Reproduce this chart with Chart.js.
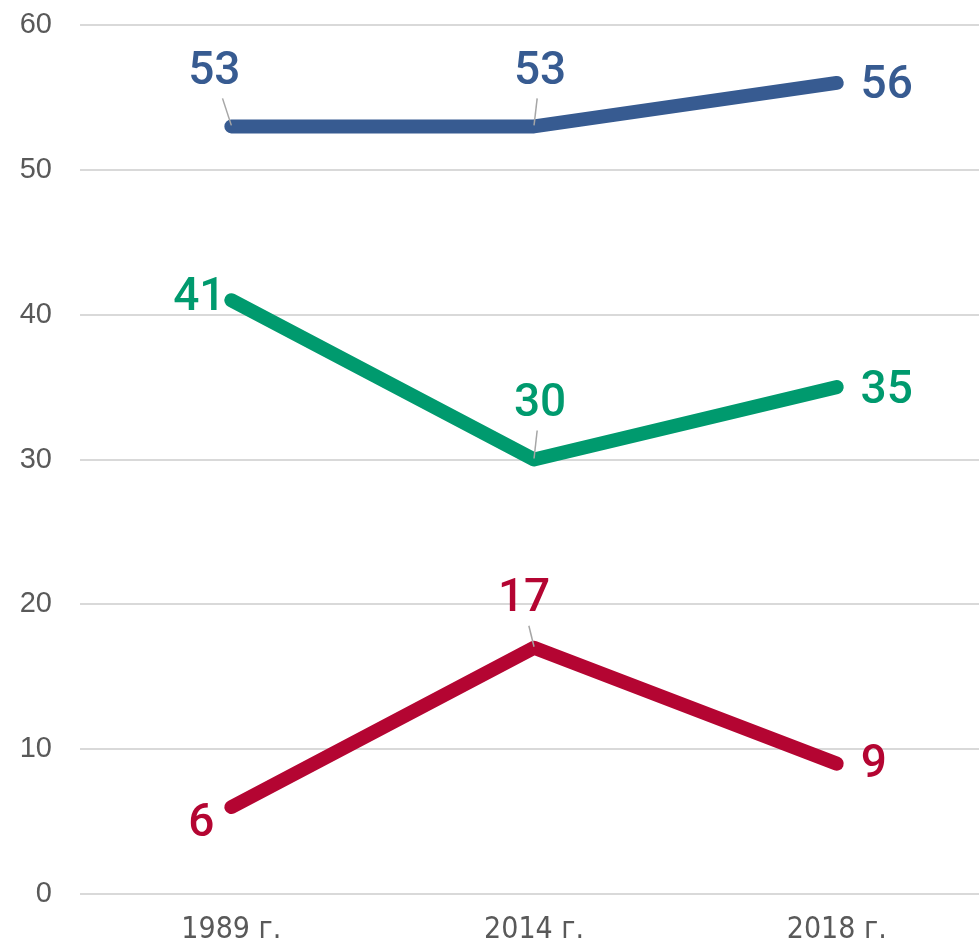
<!DOCTYPE html>
<html>
<head>
<meta charset="utf-8">
<script src="https://cdn.jsdelivr.net/npm/chart.js@4/dist/chart.umd.min.js"></script>
<style>
  html, body { margin: 0; padding: 0; background: #fff; }
  #wrap { width: 979px; height: 946px; }
</style>
</head>
<body>
<div id="wrap"><canvas id="chart" width="979" height="946"></canvas></div>
<script>
// data
var years = ["1989 г.", "2014 г.", "2018 г."];
var blueValues = [53, 53, 56];
var greenValues = [41, 30, 35];
var redValues = [6, 17, 9];
var yTicks = [0, 10, 20, 30, 40, 50, 60];

var BLUE = "#375B91";
var GREEN = "#009A6E";
var RED = "#B40532";

function toPoints(values) {
	return values.map(function(v, i) { return { x: i, y: v }; });
}

// label placement relative to point: dx, dy of text center, leader line or not
var labelPlacement = [
	[ { dx: -17, dy: -55, lead: true }, { dx: 6, dy: -55, lead: true }, { dx: 50, dy: 3, lead: false } ],
	[ { dx: -32, dy: -3, lead: false }, { dx: 6, dy: -56, lead: true }, { dx: 50, dy: 3, lead: false } ],
	[ { dx: -30, dy: 16, lead: false }, { dx: -10, dy: -49, lead: true }, { dx: 37, dy: 1, lead: false } ]
];

var dataLabelPlugin = {
	id: "dataLabels",
	afterDatasetsDraw: function(chart) {
		var ctx = chart.ctx;
		ctx.save();
		chart.data.datasets.forEach(function(ds, di) {
			var meta = chart.getDatasetMeta(di);
			meta.data.forEach(function(pt, i) {
				var p = labelPlacement[di][i];
				var tx = pt.x + p.dx, ty = pt.y + p.dy;
				if (p.lead) {
					ctx.strokeStyle = "#A6A6A6";
					ctx.lineWidth = 1.5;
					ctx.beginPath();
					ctx.moveTo(tx + (pt.x - tx) * 0.48, ty + 27);
					ctx.lineTo(pt.x, pt.y - 1);
					ctx.stroke();
				}
				ctx.fillStyle = ds.borderColor;
				ctx.font = "500 46px Roboto, 'Liberation Sans', sans-serif";
				ctx.textAlign = "center";
				ctx.textBaseline = "middle";
				ctx.fillText(String(ds.data[i].y), tx, ty + 1);
			});
		});
		ctx.restore();
	}
};

var chart = new Chart(document.getElementById("chart").getContext("2d"), {
	type: "line",
	data: {
		datasets: [
			{ data: toPoints(blueValues), borderColor: BLUE },
			{ data: toPoints(greenValues), borderColor: GREEN },
			{ data: toPoints(redValues), borderColor: RED }
		]
	},
	options: {
		responsive: false,
		animation: false,
		layout: { padding: { top: 25, right: 0, left: 0, bottom: 0 } },
		elements: {
			line: { borderWidth: 14, borderCapStyle: "round", borderJoinStyle: "round", tension: 0 },
			point: { radius: 0, hoverRadius: 0 }
		},
		plugins: { legend: { display: false }, tooltip: { enabled: false } },
		scales: {
			x: {
				type: "linear",
				min: -0.5,
				max: 2.47,
				afterFit: function(s) { s.height = 52; s.paddingLeft = 0; s.paddingRight = 0; },
				afterBuildTicks: function(s) { s.ticks = years.map(function(_, i) { return { value: i }; }); },
				grid: { display: false, drawTicks: false },
				border: { display: false },
				ticks: {
					padding: 18,
					color: "#595959",
					font: { family: "'DejaVu Sans Condensed', 'Liberation Sans Narrow', sans-serif", size: 30 },
					callback: function(v) { return years[v]; }
				}
			},
			y: {
				min: 0,
				max: 60,
				afterFit: function(s) { s.width = 80; s.paddingTop = 0; s.paddingBottom = 0; },
				afterBuildTicks: function(s) { s.ticks = yTicks.map(function(v) { return { value: v }; }); },
				grid: { color: "#D9D9D9", lineWidth: 2, drawTicks: false },
				border: { display: false },
				ticks: {
					padding: 28,
					color: "#595959",
					font: { family: "'Liberation Sans', Arial, sans-serif", size: 29 }
				}
			}
		}
	},
	plugins: [dataLabelPlugin]
});
</script>
</body>
</html>
